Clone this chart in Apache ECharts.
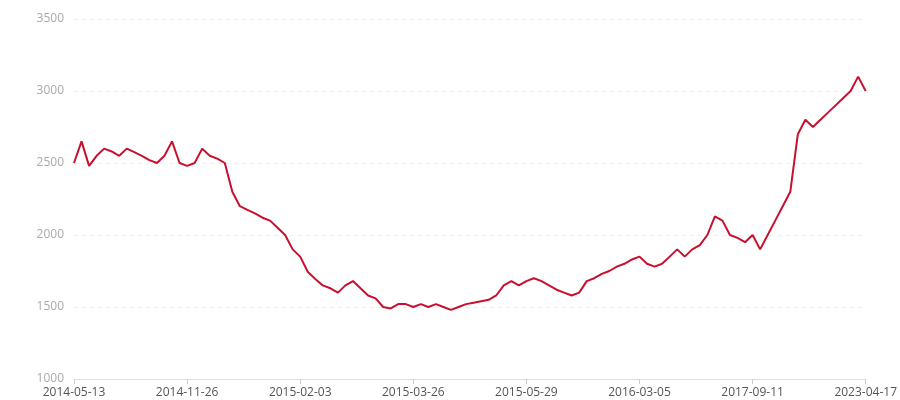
<!DOCTYPE html>
<html lang="en">

<head>
    <meta charset="UTF-8">
    <title>Chart</title>
    <script src="https://cdn.jsdelivr.net/npm/echarts@6/dist/echarts.min.js"></script>
</head>

<body style="margin:0">
    <div id="main" style="width: 900px; height: 400px;"></div>
    <script>
        // tick labels shown on the x axis (every 15th category)
        const tickDates = ['2014-05-13', '2014-11-26', '2015-02-03', '2015-03-26',
            '2015-05-29', '2016-03-05', '2017-09-11', '2023-04-17'];
        const stepPerTick = 15;

        // values, one per category
        const values = [
            2500, 2650, 2480, 2550, 2600, 2580, 2550, 2600, 2575, 2550,
            2520, 2500, 2550, 2650, 2500, 2480, 2500, 2600, 2550, 2530,
            2500, 2300, 2200, 2175, 2150, 2120, 2100, 2050, 2000, 1900,
            1850, 1745, 1695, 1650, 1630, 1600, 1650, 1680, 1630, 1580,
            1560, 1500, 1490, 1520, 1520, 1500, 1520, 1500, 1520, 1500,
            1480, 1500, 1520, 1530, 1540, 1550, 1580, 1650, 1680, 1650,
            1680, 1700, 1680, 1650, 1620, 1600, 1580, 1600, 1680, 1700,
            1730, 1750, 1780, 1800, 1830, 1850, 1800, 1780, 1800, 1850,
            1900, 1850, 1900, 1930, 2000, 2130, 2100, 2000, 1980, 1950,
            2000, 1900, 2000, 2100, 2200, 2300, 2700, 2800, 2750, 2800,
            2850, 2900, 2950, 3000, 3100, 3000
        ];

        // category names: the labelled dates, with the days in between spread evenly
        const categories = [];
        for (let t = 0; t < tickDates.length - 1; t++) {
            const a = new Date(tickDates[t] + 'T00:00:00Z').getTime();
            const b = new Date(tickDates[t + 1] + 'T00:00:00Z').getTime();
            for (let k = 0; k < stepPerTick; k++) {
                const d = new Date(a + (b - a) * k / stepPerTick);
                categories.push(d.toISOString().slice(0, 10));
            }
        }
        categories.push(tickDates[tickDates.length - 1]);

        const chart = echarts.init(document.getElementById('main'));
        chart.setOption({
            animation: false,
            textStyle: { fontFamily: '"Open Sans", "Noto Sans", sans-serif' },
            grid: { left: 74, right: 34, top: 19, bottom: 21 },
            xAxis: {
                type: 'category',
                boundaryGap: false,
                data: categories,
                axisLine: { lineStyle: { color: '#dddddd' } },
                axisTick: { show: true, interval: stepPerTick - 1, length: 5, lineStyle: { color: '#cccccc' } },
                axisLabel: { interval: stepPerTick - 1, color: '#555555', fontSize: 12, margin: 8 }
            },
            yAxis: {
                type: 'value',
                min: 1000,
                max: 3500,
                interval: 500,
                axisLine: { show: false },
                axisTick: { show: false },
                axisLabel: { color: '#aaaaaa', fontSize: 12, margin: 10, formatter: v => String(v) },
                splitLine: { lineStyle: { color: '#eeeeee', type: [4, 4] } }
            },
            series: [{
                type: 'line',
                data: values,
                symbol: 'none',
                lineStyle: { color: '#c8102e', width: 2 }
            }]
        });
    </script>
</body>

</html>
